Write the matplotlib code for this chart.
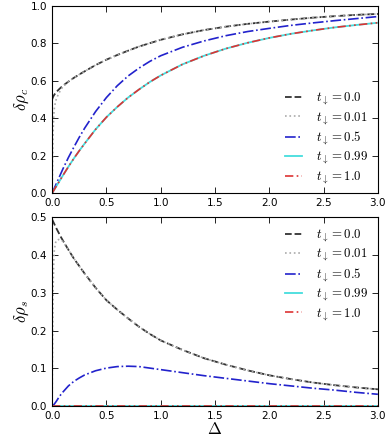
import numpy as np
import matplotlib
matplotlib.use('Agg')
import matplotlib.pyplot as plt

plt.rcParams['mathtext.fontset'] = 'cm'
plt.rcParams['font.family'] = 'DejaVu Sans'
plt.rcParams['xtick.direction'] = 'in'
plt.rcParams['ytick.direction'] = 'in'
plt.rcParams['xtick.top'] = True
plt.rcParams['ytick.right'] = True

# values
delta = [0, 0.01, 0.02, 0.04, 0.06, 0.08, 0.1, 0.15, 0.2, 0.25, 0.3, 0.4, 0.5, 0.6, 0.7, 0.8, 0.9,
         1.0, 1.2, 1.4, 1.6, 1.8, 2.0, 2.2, 2.4, 2.6, 2.8, 3.0]

# t=0.01 curve needs a finer grid close to zero
delta_001 = [0, 0.003, 0.006, 0.01, 0.015, 0.02, 0.03, 0.04, 0.06, 0.08, 0.1, 0.15, 0.2, 0.25, 0.3, 0.4, 0.5,
             0.6, 0.7, 0.8, 0.9, 1.0, 1.2, 1.4, 1.6, 1.8, 2.0, 2.2, 2.4, 2.6, 2.8, 3.0]

# top panel: delta rho_c
rc_t0 = [0.50, 0.515, 0.525, 0.54, 0.552, 0.563, 0.573, 0.595, 0.615, 0.633, 0.65, 0.683, 0.712, 0.737,
         0.76, 0.782, 0.80, 0.818, 0.847, 0.870, 0.888, 0.903, 0.915, 0.926, 0.936, 0.944, 0.951, 0.956]
rc_t001 = [0.0, 0.12, 0.24, 0.34, 0.41, 0.45, 0.485, 0.505, 0.53, 0.552, 0.568, 0.595, 0.615, 0.633, 0.65,
           0.683, 0.712, 0.737, 0.76, 0.782, 0.80, 0.818, 0.847, 0.870, 0.888, 0.903, 0.915, 0.926, 0.936,
           0.944, 0.951, 0.956]
rc_t05 = [0.0, 0.013, 0.026, 0.052, 0.078, 0.104, 0.13, 0.19, 0.245, 0.298, 0.347, 0.435, 0.51, 0.573,
          0.625, 0.667, 0.703, 0.733, 0.778, 0.812, 0.84, 0.862, 0.879, 0.895, 0.908, 0.92, 0.931, 0.942]
rc_t099 = [0.0, 0.0095, 0.019, 0.038, 0.057, 0.076, 0.095, 0.141, 0.185, 0.226, 0.265, 0.34, 0.405, 0.46,
           0.51, 0.553, 0.593, 0.628, 0.687, 0.733, 0.771, 0.802, 0.828, 0.85, 0.868, 0.884, 0.897, 0.909]
rc_t1 = [0.0, 0.0095, 0.019, 0.038, 0.057, 0.076, 0.095, 0.141, 0.185, 0.226, 0.265, 0.34, 0.405, 0.46,
         0.51, 0.553, 0.593, 0.628, 0.687, 0.733, 0.771, 0.802, 0.828, 0.85, 0.868, 0.884, 0.897, 0.909]

# bottom panel: delta rho_s
rs_t0 = [0.493, 0.487, 0.481, 0.469, 0.458, 0.447, 0.437, 0.413, 0.39, 0.37, 0.35, 0.313, 0.28, 0.255,
         0.232, 0.21, 0.191, 0.174, 0.149, 0.127, 0.11, 0.095, 0.082, 0.072, 0.063, 0.056, 0.05, 0.045]
rs_t001 = [0.0, 0.12, 0.23, 0.32, 0.38, 0.41, 0.43, 0.438, 0.44, 0.438, 0.435, 0.413, 0.39, 0.37, 0.35,
           0.313, 0.28, 0.255, 0.232, 0.21, 0.191, 0.174, 0.149, 0.127, 0.11, 0.095, 0.082, 0.072, 0.063,
           0.056, 0.05, 0.045]
rs_t05 = [0.0, 0.003, 0.006, 0.014, 0.023, 0.031, 0.038, 0.054, 0.066, 0.075, 0.083, 0.094, 0.101, 0.105,
          0.106, 0.105, 0.101, 0.097, 0.089, 0.081, 0.074, 0.067, 0.06, 0.054, 0.048, 0.043, 0.037, 0.032]
rs_t099 = [0.0] * len(delta)
rs_t1 = [0.0] * len(delta)

labels = [r'$t_\downarrow=0.0$', r'$t_\downarrow=0.01$', r'$t_\downarrow=0.5$', r'$t_\downarrow=0.99$', r'$t_\downarrow=1.0$']

fig = plt.figure(figsize=(3.86, 4.37), dpi=100)
ax1 = fig.add_axes([0.135, 0.558, 0.844, 0.429])
ax2 = fig.add_axes([0.135, 0.070, 0.844, 0.434])

def draw(ax, y0, y001, y05, y099, y1):
    ax.plot(delta, y0, color='#333333', ls='--', lw=1.3, label=labels[0])
    ax.plot(delta_001, y001, color='#aaaaaa', ls=':', lw=1.2, label=labels[1])
    ax.plot(delta, y05, color='#2222cc', ls='-.', lw=1.2, label=labels[2])
    ax.plot(delta, y099, color='#44dddd', ls='-', lw=1.3, label=labels[3])
    ax.plot(delta, y1, color='#dd3333', ls=(0, (5, 2, 1, 2, 1, 2)), lw=1.2, label=labels[4])
    ax.set_xlim(0, 3.0)
    ax.set_xticks(np.arange(0, 3.01, 0.5))
    ax.tick_params(labelsize=7.5, length=4, width=0.6)
    for s in ax.spines.values():
        s.set_linewidth(0.8)

leg_kw = dict(frameon=False, fontsize=9.3, handlelength=1.3, handletextpad=1.1, labelspacing=0.2)

draw(ax1, rc_t0, rc_t001, rc_t05, rc_t099, rc_t1)
ax1.set_ylim(0, 1.0)
ax1.set_yticks(np.arange(0, 1.01, 0.2))
ax1.set_ylabel(r'$\delta\rho_c$', fontsize=12, labelpad=0)
ax1.legend(loc='lower right', bbox_to_anchor=(1.005, -0.023), **leg_kw)

draw(ax2, rs_t0, rs_t001, rs_t05, rs_t099, rs_t1)
ax2.set_ylim(0, 0.5)
ax2.set_yticks(np.arange(0, 0.51, 0.1))
ax2.set_ylabel(r'$\delta\rho_s$', fontsize=12, labelpad=0)
ax2.set_xlabel(r'$\Delta$', fontsize=12, labelpad=-1)
ax2.legend(loc='upper right', bbox_to_anchor=(1.005, 1.006), **leg_kw)

fig.savefig('out.png', dpi=100)
